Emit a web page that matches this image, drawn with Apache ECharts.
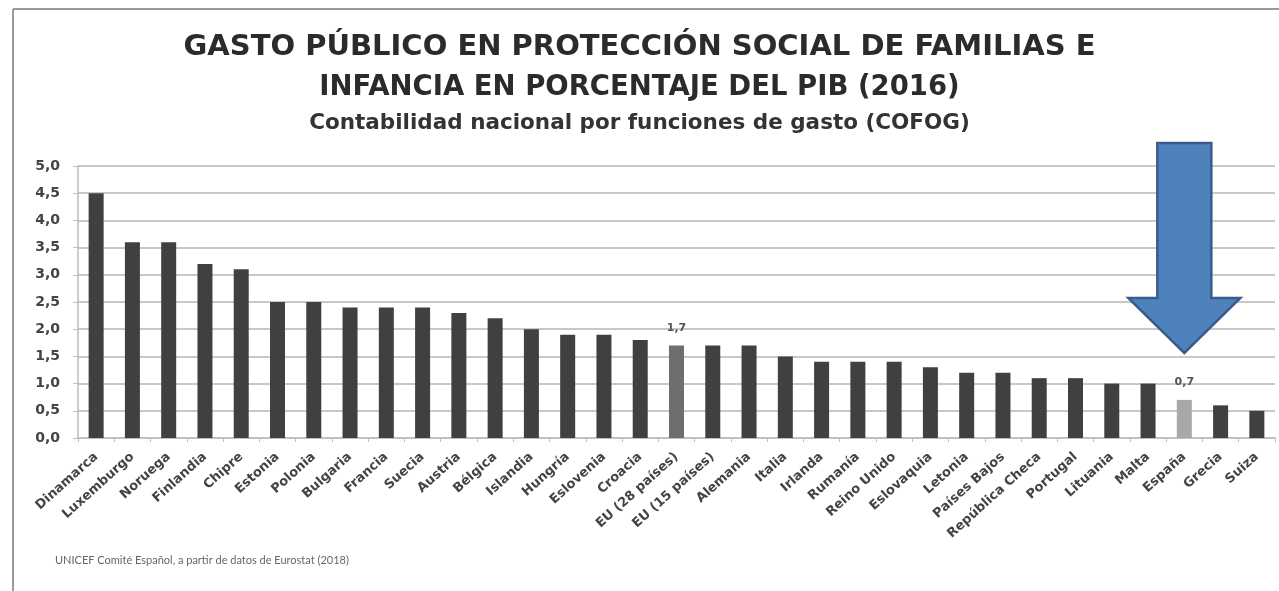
<!DOCTYPE html>
<html>
<head>
<meta charset="utf-8">
<script src="https://cdn.jsdelivr.net/npm/echarts@6/dist/echarts.min.js"></script>
<style>
html,body{margin:0;padding:0;background:#fff;}
#c{width:1279px;height:591px;}
</style>
</head>
<body>
<div id="c"></div>
<script>
var categories = ['Dinamarca','Luxemburgo','Noruega','Finlandia','Chipre','Estonia','Polonia','Bulgaria','Francia','Suecia','Austria','Bélgica','Islandia','Hungría','Eslovenia','Croacia','EU (28 países)','EU (15 países)','Alemania','Italia','Irlanda','Rumanía','Reino Unido','Eslovaquia','Letonia','Países Bajos','República Checa','Portugal','Lituania','Malta','España','Grecia','Suiza'];
var values = [4.5,3.6,3.6,3.2,3.1,2.5,2.5,2.4,2.4,2.4,2.3,2.2,2.0,1.9,1.9,1.8,1.7,1.7,1.7,1.5,1.4,1.4,1.4,1.3,1.2,1.2,1.1,1.1,1.0,1.0,0.7,0.6,0.5];
var yTicks = [0,0.5,1,1.5,2,2.5,3,3.5,4,4.5,5];
var euCategory = 'EU (28 países)';
var spainCategory = 'España';
var titleLines = ['GASTO PÚBLICO EN PROTECCIÓN SOCIAL DE FAMILIAS E','INFANCIA EN PORCENTAJE DEL PIB (2016)'];
var subtitle = 'Contabilidad nacional por funciones de gasto (COFOG)';
var sourceNote = 'UNICEF Comité Español, a partir de datos de Eurostat (2018)';

function fmt(v){ return Number(v).toFixed(1).replace('.', ','); }

var seriesData = categories.map(function(c, i){
  var color = '#404040';
  var showLabel = false;
  if (c === euCategory) { color = '#6e6e6e'; showLabel = true; }
  if (c === spainCategory) { color = '#a8a8a8'; showLabel = true; }
  return { value: values[i], itemStyle: { color: color }, label: { show: showLabel } };
});

var chart = echarts.init(document.getElementById('c'));
var font = '"DejaVu Sans", sans-serif';
var font2 = 'Lato, "Open Sans", sans-serif';
chart.setOption({
  animation: false,
  backgroundColor: '#fff',
  title: [
    { text: titleLines[0], left: 'center', top: 28, textStyle: { fontFamily: font, fontSize: 29, fontWeight: 'bold', color: '#2b2b2b' } },
    { text: titleLines[1], left: 'center', top: 69, textStyle: { fontFamily: font, fontSize: 27.5, fontWeight: 'bold', color: '#2b2b2b' } },
    { text: subtitle, left: 'center', top: 107, textStyle: { fontFamily: font, fontSize: 21.5, fontWeight: 'bold', color: '#333' } }
  ],
  grid: { left: 78, right: 4, top: 166, bottom: 153 },
  xAxis: {
    type: 'category',
    data: categories,
    axisLine: { lineStyle: { color: '#bdbdbd', width: 1.5 } },
    axisTick: { show: true, length: 4, lineStyle: { color: '#bdbdbd' } },
    axisLabel: { interval: 0, rotate: 42, margin: 17, fontFamily: font, fontSize: 13, fontWeight: 'bold', color: '#444' }
  },
  yAxis: {
    type: 'value',
    min: yTicks[0],
    max: yTicks[yTicks.length - 1],
    interval: yTicks[1] - yTicks[0],
    axisLine: { show: true, lineStyle: { color: '#bdbdbd', width: 1.5 } },
    axisTick: { show: true, length: 5, lineStyle: { color: '#bdbdbd' } },
    axisLabel: { formatter: fmt, margin: 18, fontFamily: font, fontSize: 14, fontWeight: 'bold', color: '#444' },
    splitLine: { lineStyle: { color: '#c8c8c8', width: 2 } }
  },
  series: [{
    type: 'bar',
    data: seriesData,
    barWidth: 15,
    label: { position: 'top', distance: 12, formatter: function(p){ return fmt(p.value); }, fontFamily: font, fontSize: 11, fontWeight: 'bold', color: '#555' }
  }]
});

var p = chart.convertToPixel('grid', [spainCategory, values[categories.indexOf(spainCategory)]]);
var cx = p[0], by = p[1];
var tipY = by - 47, headY = tipY - 55, topY = headY - 155;
chart.setOption({
  graphic: [
    { type: 'line', shape: { x1: 13, y1: 9, x2: 1279, y2: 9 }, style: { stroke: '#9a9a9a', lineWidth: 2 } },
    { type: 'line', shape: { x1: 13, y1: 9, x2: 13, y2: 591 }, style: { stroke: '#9a9a9a', lineWidth: 2 } },
    { type: 'text', left: 55, top: 555, style: { text: sourceNote, fontFamily: font2, fontSize: 11, fill: '#666' } },
    { type: 'polygon', z: 100,
      shape: { points: [[cx - 27, topY], [cx + 27, topY], [cx + 27, headY], [cx + 56, headY], [cx, tipY], [cx - 56, headY], [cx - 27, headY]] },
      style: { fill: '#4f81bd', stroke: '#385d8a', lineWidth: 2.5 } }
  ]
});
</script>
</body>
</html>
